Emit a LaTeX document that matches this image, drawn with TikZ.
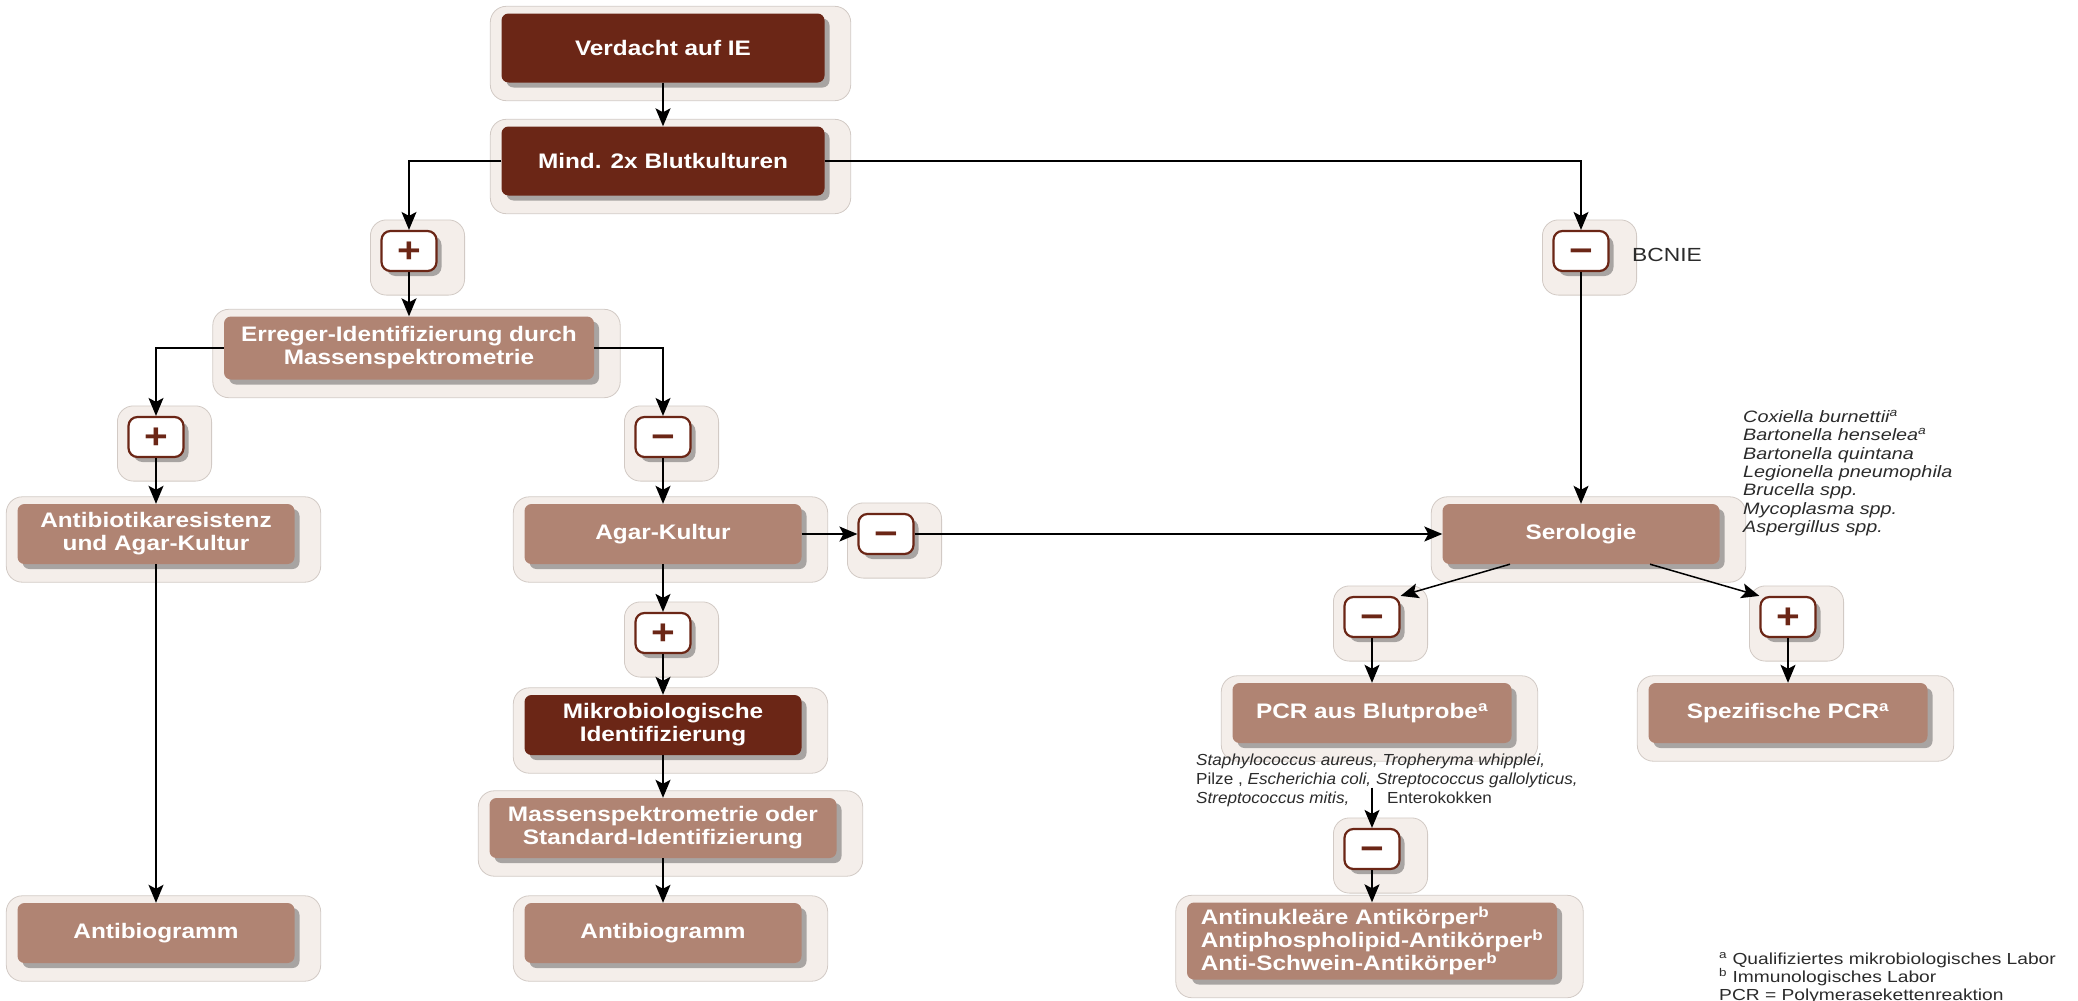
\documentclass[tikz,border=0pt]{standalone}
\usepackage{fontspec}
\setmainfont{Liberation Sans}[FakeStretch=1.16]
\newfontfamily\notefont{Liberation Sans}[FakeStretch=1.2]
\newfontfamily\listfont{Liberation Sans}[FakeStretch=1.07]
\usepackage{tikz}
\usetikzlibrary{calc}
\usetikzlibrary{arrows.meta}
\usetikzlibrary{shadows}
\usetikzlibrary{backgrounds}
\definecolor{darkbrown}{HTML}{6B2616}
\definecolor{rosebrown}{HTML}{B08473}
\definecolor{halofill}{HTML}{F4EEEA}
\definecolor{haloline}{HTML}{D2CAC5}
\definecolor{notegray}{HTML}{2B2B2B}

\begin{document}
\begin{tikzpicture}[
  x=1pt, y=-1pt,
  box/.style={rounded corners=7pt, text=white, align=center, inner sep=0pt,
    minimum width=277pt, minimum height=60pt,
    font=\bfseries\fontsize{21}{23}\selectfont,
    drop shadow={shadow xshift=5pt, shadow yshift=-5pt, fill=black!70, opacity=0.45}},
  darkbox/.style={box, fill=darkbrown},
  lightbox/.style={box, fill=rosebrown},
  sign/.style={rounded corners=9pt, draw=darkbrown, line width=2.2pt, fill=white,
    text=darkbrown, minimum width=55pt, minimum height=40pt, inner sep=0pt,
    text height=23pt, text depth=0pt, font=\bfseries\fontsize{35}{35}\selectfont,
    drop shadow={shadow xshift=5pt, shadow yshift=-5pt, fill=black!70, opacity=0.45}},
  note/.style={text=notegray, align=left, inner sep=0pt},
  arrow/.style={draw, line width=1.5pt, -{Stealth[length=18pt,width=15pt,inset=4pt]}}, % pfeil
  halo/.style={fill=halofill, draw=haloline, line width=0.8pt, rounded corners=16pt}
]
\useasboundingbox (0,0) rectangle (2078,1001);

\node[darkbox, minimum width=323pt, minimum height=69pt] (verdacht) at (663,48) {Verdacht auf IE};
\node[darkbox, minimum width=323pt, minimum height=69pt] (blutkultur) at (663,161) {Mind. 2x Blutkulturen};
\node[sign] (pos1) at (409,251) {+};
\node[sign] (neg1) at (1581,251) {−};
\node[note, anchor=west, font=\notefont\fontsize{19}{19}\selectfont] (bcnie) at (1632,255) {BCNIE};
\node[lightbox, minimum width=370pt, minimum height=63pt] (erreger) at (409,348) {Erreger-Identifizierung durch\\Massenspektrometrie};
\node[sign] (pos2) at (156,437) {+};
\node[sign] (neg2) at (663,437) {−};
\node[lightbox] (resistenz) at (156,534) {Antibiotikaresistenz\\und Agar-Kultur};
\node[lightbox] (agar) at (663,534) {Agar-Kultur};
\node[sign] (neg3) at (886,534) {−};
\node[lightbox] (serologie) at (1581,534) {Serologie};
\node[note, anchor=north west, font=\notefont\itshape\fontsize{16.5}{18.3}\selectfont] (erregerliste) at (1743,410)
  {Coxiella burnettii\textsuperscript{a}\\Bartonella henselea\textsuperscript{a}\\Bartonella quintana\\Legionella pneumophila\\Brucella spp.\\Mycoplasma spp.\\Aspergillus spp.};
\node[sign] (pos3) at (663,633) {+};
\node[darkbox] (mikro) at (663,725) {Mikrobiologische\\Identifizierung};
\node[lightbox, minimum width=347pt] (massen) at (663,828) {Massenspektrometrie oder\\Standard-Identifizierung};
\node[lightbox] (abgramm2) at (663,933) {Antibiogramm};
\node[lightbox] (abgramm1) at (156,933) {Antibiogramm};
\node[sign] (neg4) at (1372,617) {−};
\node[sign] (pos4) at (1788,617) {+};
\node[lightbox, minimum width=279pt] (pcr) at (1372,713) {PCR aus Blutprobe\textsuperscript{a}};
\node[lightbox, minimum width=279pt] (specpcr) at (1788,713) {Spezifische PCR\textsuperscript{a}};
\node[note, anchor=north west, font=\listfont\fontsize{16}{18.3}\selectfont] (pcrliste) at (1196,754)
  {\itshape Staphylococcus aureus, Tropheryma whipplei,\\Pilze , \itshape Escherichia coli, Streptococcus gallolyticus,};
\node[note, anchor=base west, font=\listfont\itshape\fontsize{16}{18.3}\selectfont] (mitis) at (1196,803) {Streptococcus mitis,};
\node[note, anchor=base west, font=\listfont\fontsize{16}{18.3}\selectfont] (entero) at (1387,803) {Enterokokken};
\node[sign] (neg5) at (1372,849) {−};
\node[lightbox, minimum width=370pt, minimum height=77pt, align=left] (antik) at (1372,941)
  {Antinukleäre Antikörper\textsuperscript{b}\\Antiphospholipid-Antikörper\textsuperscript{b}\\Anti-Schwein-Antikörper\textsuperscript{b}};
\node[note, anchor=north west, font=\notefont\fontsize{16}{18}\selectfont] (fussnote) at (1719,952)
  {\textsuperscript{a} Qualifiziertes mikrobiologisches Labor\\\textsuperscript{b} Immunologisches Labor\\PCR = Polymerasekettenreaktion};

\draw[arrow] (verdacht) -- (blutkultur);
\draw[arrow, line width=1.2pt] (blutkultur.west) -| (pos1);
\draw[arrow, line width=1.2pt] (blutkultur.east) -| (neg1);
\draw[arrow] (pos1) -- (erreger);
\draw[arrow] (neg1) -- (serologie);
\draw[arrow, line width=1.2pt] (erreger.west) -| (pos2);
\draw[arrow, line width=1.2pt] (erreger.east) -| (neg2);
\draw[arrow] (pos2) -- (resistenz);
\draw[arrow] (neg2) -- (agar);
\draw[arrow] (resistenz) -- (abgramm1);
\draw[arrow] (agar) -- (neg3);
\draw[arrow] (neg3) -- (serologie);
\draw[arrow] (agar) -- (pos3);
\draw[arrow] (pos3) -- (mikro);
\draw[arrow] (mikro) -- (massen);
\draw[arrow] (massen) -- (abgramm2);
\draw[arrow] ($(serologie.south)+(-71,0)$) -- (neg4.north east);
\draw[arrow] ($(serologie.south)+(69,0)$) -- (pos4.north west);
\draw[arrow] (neg4) -- (pcr);
\draw[arrow] (pos4) -- (specpcr);
\draw[arrow] (pcr.south |- pcrliste.south) -- (neg5);
\draw[arrow] (neg5) -- (antik);

% heller rand hinter den kaesten
\begin{scope}[on background layer]
  \foreach \n in {verdacht, blutkultur, erreger, resistenz, agar, serologie, mikro, massen, abgramm1, abgramm2, pcr, specpcr, antik}
    \draw[halo] ($(\n.north west)+(-11,-7)$) rectangle ($(\n.south east)+(26,18)$);
  \foreach \n in {pos1, neg1, pos2, neg2, neg3, pos3, neg4, pos4, neg5}
    \draw[halo] ($(\n.north west)+(-10,-10)$) rectangle ($(\n.south east)+(27,23)$);
\end{scope}
\end{tikzpicture}
\end{document}
